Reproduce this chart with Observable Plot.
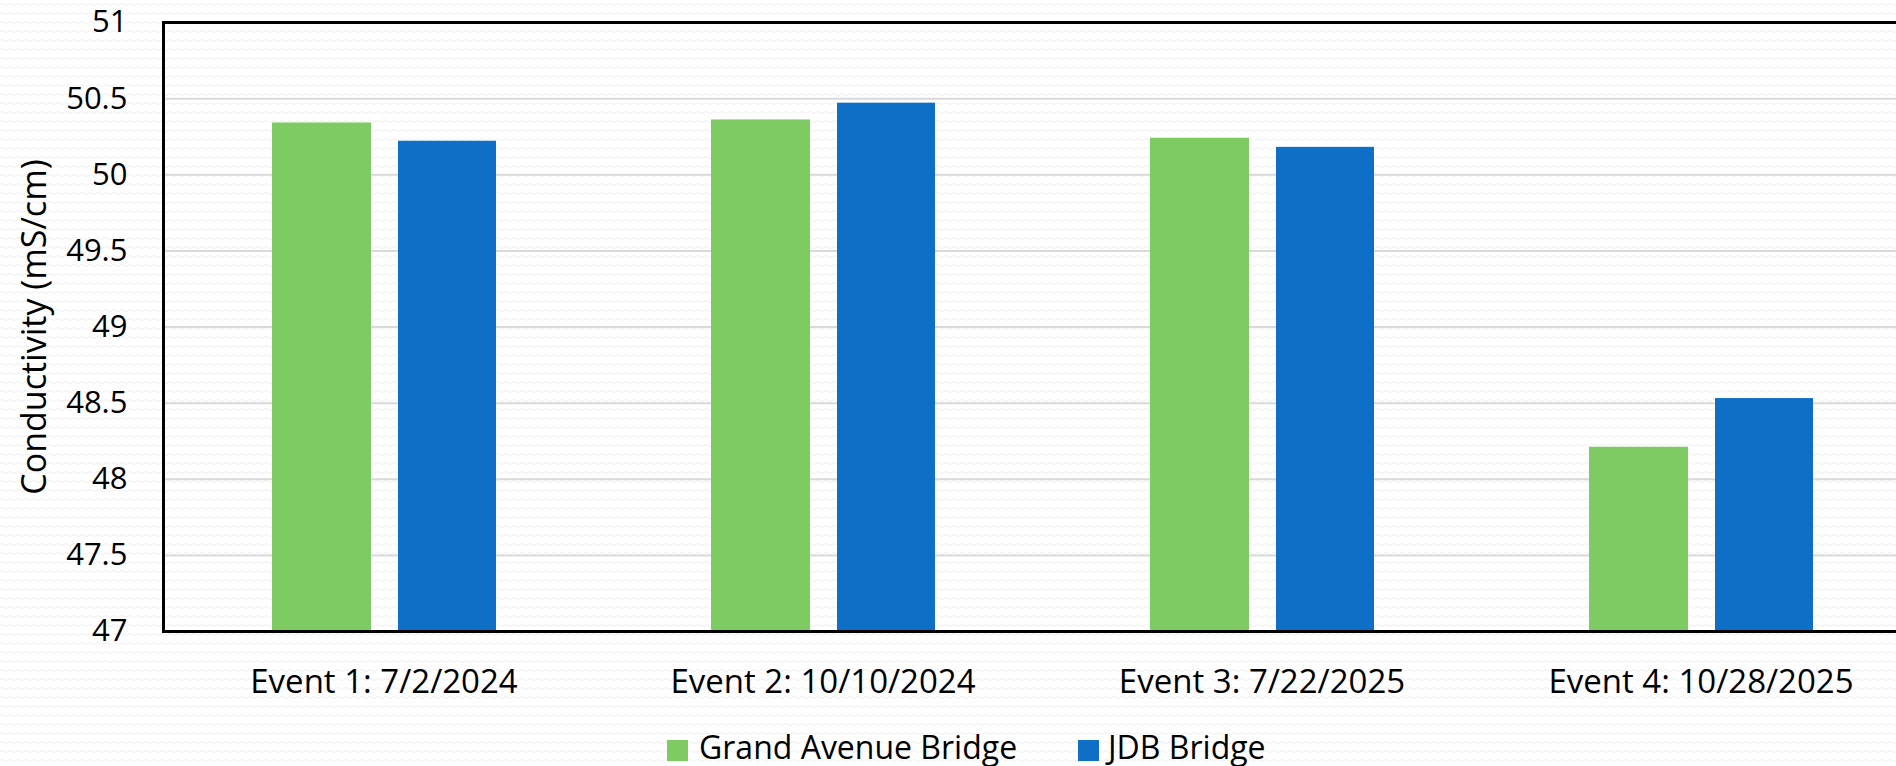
<!DOCTYPE html>
<html>
<head>
<meta charset="utf-8">
<script src="https://cdn.jsdelivr.net/npm/d3@7"></script>
<script src="https://cdn.jsdelivr.net/npm/@observablehq/plot@0.6"></script>
<style>
  html, body { margin: 0; padding: 0; width: 1896px; height: 766px; overflow: hidden; }
  body {
    position: relative;
    font-family: "Open Sans", sans-serif;
    background-color: #ffffff;
    background-image: url("data:image/svg+xml,%3Csvg xmlns='http://www.w3.org/2000/svg' width='8' height='9'%3E%3Cpath d='M0 4.5 Q2 2.5 4 4.5 T8 4.5' fill='none' stroke='%23eeeeee' stroke-width='1'/%3E%3C/svg%3E");
  }
  #chart { position: absolute; left: 0; top: 0; }
  .sw { position: absolute; width: 21px; height: 21px; top: 740px; }
  .lt { position: absolute; top: 731px; font-size: 32px; line-height: 32px; color: #000; white-space: nowrap; }
</style>
</head>
<body>
<div id="chart"></div>
<div class="sw" id="sw1"></div><div class="lt" id="lt1"></div>
<div class="sw" id="sw2"></div><div class="lt" id="lt2"></div>
<script>
const events = ["Event 1: 7/2/2024", "Event 2: 10/10/2024", "Event 3: 7/22/2025", "Event 4: 10/28/2025"];
const seriesNames = ["Grand Avenue Bridge", "JDB Bridge"];
const grandAvenue = [50.34, 50.36, 50.24, 48.21];
const jdb = [50.22, 50.47, 50.18, 48.53];
const yTicks = [47, 47.5, 48, 48.5, 49, 49.5, 50, 50.5, 51];
const yLabel = "Conductivity (mS/cm)";
const colors = ["#7ECB64", "#0F6FC6"];

const yMin = yTicks[0], yMax = yTicks[yTicks.length - 1];
const gaData = events.map((e, i) => ({event: e, value: grandAvenue[i]}));
const jdbData = events.map((e, i) => ({event: e, value: jdb[i]}));

const plot = Plot.plot({
  width: 1920,
  height: 720,
  marginLeft: 163,
  marginRight: 0,
  marginTop: 22,
  marginBottom: 89,
  style: {background: "transparent", maxWidth: "none", fontFamily: "'Open Sans', sans-serif", fontSize: "32px", color: "#000"},
  x: {domain: events, padding: 0, label: null},
  y: {domain: [yMin, yMax], label: null},
  marks: [
    Plot.ruleY(yTicks.slice(1, -1), {stroke: "#d9d9d9", strokeWidth: 2}),
    Plot.barY(gaData, {x: "event", y1: () => yMin, y2: "value", fill: colors[0], insetLeft: 108, insetRight: 232}),
    Plot.barY(jdbData, {x: "event", y1: () => yMin, y2: "value", fill: colors[1], insetLeft: 234, insetRight: 107}),
    Plot.frame({stroke: "#000", strokeWidth: 3}),
    Plot.axisY({ticks: yTicks, tickSize: 0, tickPadding: 36, fontSize: 31, label: null, tickFormat: d => String(d)}),
    Plot.axisX({tickSize: 0, tickPadding: 38, fontSize: 33, label: null}),
    Plot.text([yLabel], {text: d => d, frameAnchor: "left", textAnchor: "middle", lineAnchor: "middle", rotate: -90, dx: -128, fontSize: 34, fill: "#000"})
  ]
});
document.getElementById("chart").appendChild(plot);

const sw = [document.getElementById("sw1"), document.getElementById("sw2")];
const lt = [document.getElementById("lt1"), document.getElementById("lt2")];
const swLeft = [667, 1078], ltLeft = [699, 1108];
seriesNames.forEach((name, i) => {
  sw[i].style.background = colors[i];
  sw[i].style.left = swLeft[i] + "px";
  lt[i].style.left = ltLeft[i] + "px";
  lt[i].textContent = name;
});
</script>
</body>
</html>
